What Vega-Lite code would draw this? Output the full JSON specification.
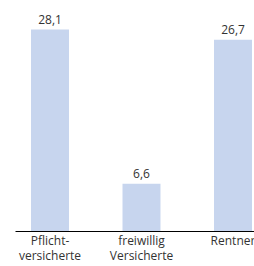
{
  "$schema": "https://vega.github.io/schema/vega-lite/v6.json",
  "width": 253,
  "height": 215,
  "autosize": "none",
  "padding": {"left": 15, "top": 16, "right": 0, "bottom": 35},
  "background": "white",
  "config": {"view": {"stroke": null}, "font": "Open Sans"},
  "data": {"values": [
    {"gruppe": "Pflichtversicherte", "wert": 28.1, "label": "28,1"},
    {"gruppe": "freiwillig Versicherte", "wert": 6.6, "label": "6,6"},
    {"gruppe": "Rentner", "wert": 26.7, "label": "26,7"}
  ]},
  "encoding": {
    "x": {"field": "gruppe", "type": "nominal", "sort": null,
      "scale": {"paddingInner": 0.585, "paddingOuter": 0.175},
      "axis": {"title": null, "labelAngle": 0, "ticks": false, "domainColor": "#000000", "domainWidth": 1,
        "labelColor": "#333333", "labelFontSize": 12, "labelPadding": 4, "labelLineHeight": 15, "labelBaseline": "top",
        "labelExpr": "datum.label == 'Pflichtversicherte' ? ['Pflicht-','versicherte'] : datum.label == 'freiwillig Versicherte' ? ['freiwillig','Versicherte'] : datum.label"}},
    "y": {"field": "wert", "type": "quantitative", "scale": {"domain": [0, 30], "nice": false}, "axis": null}
  },
  "layer": [
    {"mark": {"type": "bar", "color": "#c7d5ee"}},
    {"mark": {"type": "text", "baseline": "bottom", "dy": -3, "fontSize": 12, "color": "#333333"},
     "encoding": {"text": {"field": "label"}}}
  ]
}
